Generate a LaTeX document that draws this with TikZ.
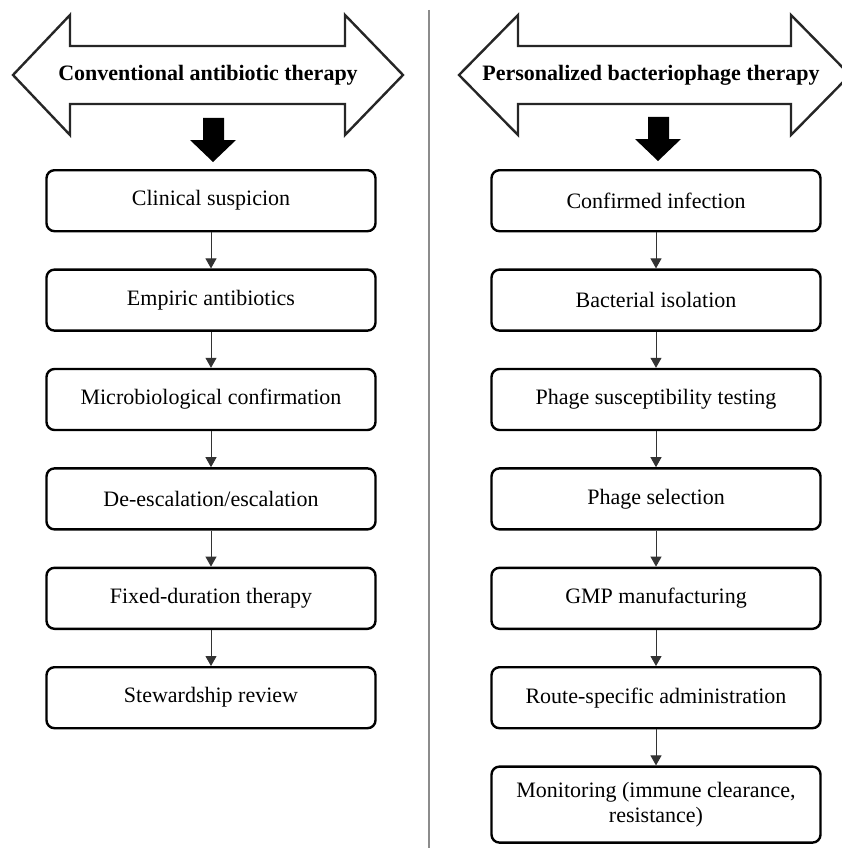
\documentclass[tikz,border=0pt]{standalone}
\usepackage{fontspec}
\setmainfont{Liberation Serif}
\usetikzlibrary{positioning,arrows.meta}

\begin{document}
\begin{tikzpicture}[x=1pt,y=-1pt,
  stepbox/.style={draw, line width=2.4pt, rounded corners=8pt, minimum width=329pt,
    minimum height=61pt, align=center, font=\fontsize{22}{25}\selectfont},
  link/.style={-{Triangle[width=11pt,length=10pt]}, line width=1pt, draw=black!80},
  headarrow/.style={draw=black!85, line width=2.4pt, fill=white, line join=miter},
  headtext/.style={font=\fontsize{22}{26}\selectfont\bfseries},
  node distance=36pt]

\useasboundingbox (0,0) rectangle (842,848);

% Linha divisória
\draw[line width=1.3pt, black!45] (429,10) -- (429,848);

% Setas duplas (títulos)
\draw[headarrow] (13,75) -- (70,15) -- (70,46) -- (345,46) -- (345,15) -- (403,75)
  -- (345,135) -- (345,104) -- (70,104) -- (70,135) -- cycle;
\draw[headarrow] (459,75) -- (518,15) -- (518,46) -- (791,46) -- (791,15) -- (850,75)
  -- (791,135) -- (791,104) -- (518,104) -- (518,135) -- cycle;

\node[headtext] (abTitle) at (208,75) {Conventional antibiotic therapy};
\node[headtext] (phTitle) at (651,75) {Personalized bacteriophage therapy};

% Setas pretas
\fill (203,118) -- (224,118) -- (224,140) -- (236,140) -- (213,162) -- (190,140) -- (203,140) -- cycle;
\fill (648,117) -- (669,117) -- (669,139) -- (681,139) -- (658,161) -- (635,139) -- (648,139) -- cycle;

% Caixas: antibiótico
\node[stepbox] (ab1) at (211,200.7) {Clinical suspicion};
\node[stepbox, below=of ab1] (ab2) {Empiric antibiotics};
\node[stepbox, below=of ab2] (ab3) {Microbiological confirmation};
\node[stepbox, below=of ab3] (ab4) {De-escalation/escalation};
\node[stepbox, below=of ab4] (ab5) {Fixed-duration therapy};
\node[stepbox, below=of ab5] (ab6) {Stewardship review};

% Caixas: fago
\node[stepbox] (ph1) at (656,200.7) {Confirmed infection};
\node[stepbox, below=of ph1] (ph2) {Bacterial isolation};
\node[stepbox, below=of ph2] (ph3) {Phage susceptibility testing};
\node[stepbox, below=of ph3] (ph4) {Phage selection};
\node[stepbox, below=of ph4] (ph5) {GMP manufacturing};
\node[stepbox, below=of ph5] (ph6) {Route-specific administration};
\node[stepbox, below=of ph6, minimum height=76pt] (ph7) {Monitoring (immune clearance,\\ resistance)};

% Ligações
\foreach \a/\b in {ab1/ab2,ab2/ab3,ab3/ab4,ab4/ab5,ab5/ab6,
                   ph1/ph2,ph2/ph3,ph3/ph4,ph4/ph5,ph5/ph6,ph6/ph7}
  \draw[link] (\a.south) -- (\b.north);

\end{tikzpicture}
\end{document}
